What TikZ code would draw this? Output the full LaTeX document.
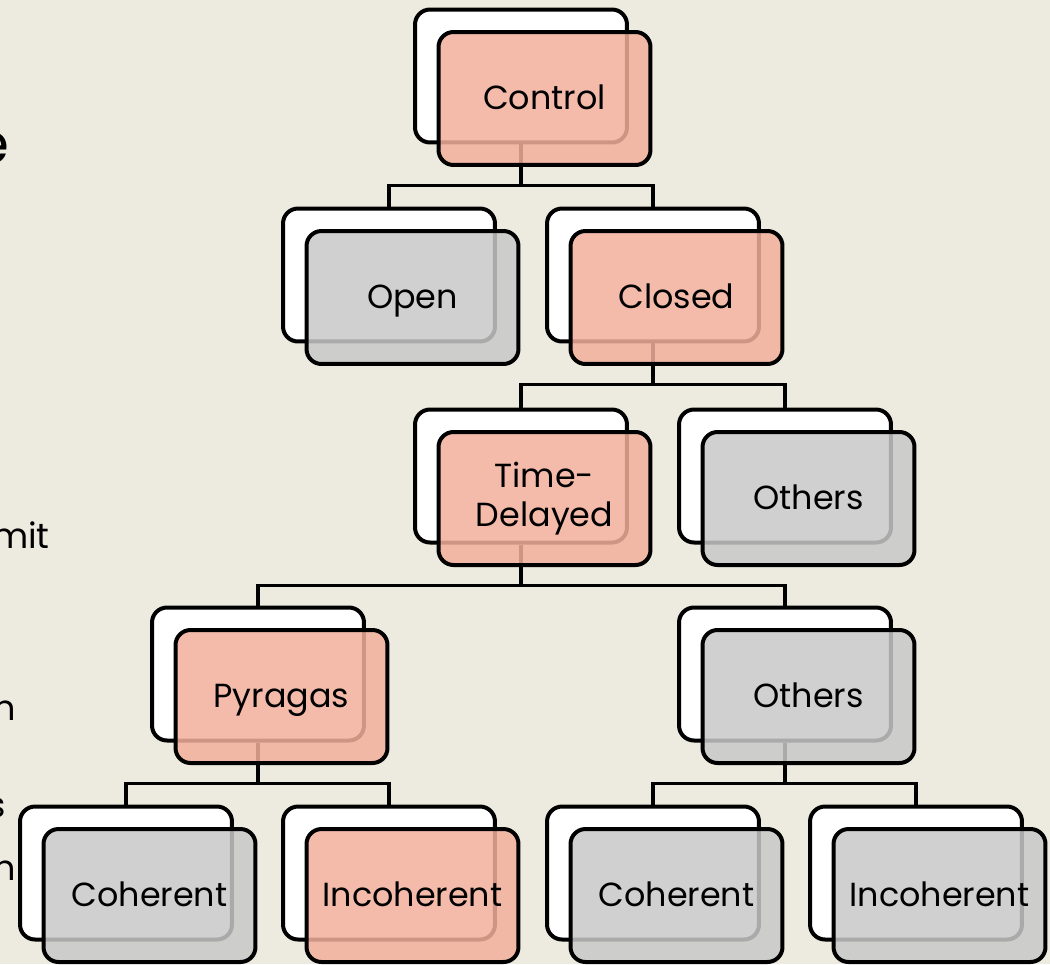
\documentclass[tikz,border=0pt]{standalone}
\usepackage{fontspec}
\setmainfont{Poppins}
\usetikzlibrary{positioning,calc}

\definecolor{paper}{RGB}{237,234,224}
\definecolor{salmon}{RGB}{243,176,157}
\definecolor{greybox}{RGB}{200,200,200}

\begin{document}
\begin{tikzpicture}[
    x=0.02cm, y=-0.02cm,
    backbox/.style={rectangle, rounded corners=0.3cm, draw, line width=0.08cm, fill=white, minimum width=4.24cm, minimum height=2.66cm, inner sep=0pt},
    frontbox/.style={backbox, fill opacity=0.85, text opacity=1, align=center, font=\fontsize{19}{22}\selectfont},
    oneline/.style={text height=17pt, text depth=4pt},
    hot/.style={fill=salmon},
    cold/.style={fill=greybox},
    link/.style={line width=0.07cm},
    side/.style={anchor=base east, inner sep=0pt, font=\fontsize{20}{24}\selectfont},
]

% Page
\useasboundingbox[fill=paper] (0,0) rectangle (1050,964);

% Cut-off slide text
\node[side, font=\fontsize{32}{36}\selectfont] (t1) at (10,163) {e};
\node[side] (t2) at (50,548) {mit};
\node[side] (t3) at (16,720) {n};
\node[side] (t4) at (6,817) {s};
\node[side] (t5) at (16,880) {h};

% Back boxes
\node[backbox] (control-b) at (521,76) {};
\node[backbox] (open-b) at (389,275) {};
\node[backbox] (closed-b) at (653,275) {};
\node[backbox] (delay-b) at (521,476) {};
\node[backbox] (others1-b) at (785,476) {};
\node[backbox] (pyragas-b) at (258,674) {};
\node[backbox] (others2-b) at (785,674) {};
\node[backbox] (coh1-b) at (126,873) {};
\node[backbox] (incoh1-b) at (389,873) {};
\node[backbox] (coh2-b) at (653,873) {};
\node[backbox] (incoh2-b) at (916,873) {};

% Tree links
\draw[link] (control-b.south) -- ++(0,41) -| (open-b.north);
\draw[link] (control-b.south) -- ++(0,41) -| (closed-b.north);
\draw[link] (closed-b.south) -- ++(0,41) -| (delay-b.north);
\draw[link] (closed-b.south) -- ++(0,41) -| (others1-b.north);
\draw[link] (delay-b.south) -- ++(0,41) -| (pyragas-b.north);
\draw[link] (delay-b.south) -- ++(0,41) -| (others2-b.north);
\draw[link] (pyragas-b.south) -- ++(0,41) -| (coh1-b.north);
\draw[link] (pyragas-b.south) -- ++(0,41) -| (incoh1-b.north);
\draw[link] (others2-b.south) -- ++(0,41) -| (coh2-b.north);
\draw[link] (others2-b.south) -- ++(0,41) -| (incoh2-b.north);

% Front boxes
\node[frontbox, oneline, hot] (control) at ([shift={(23.5,22.5)}]control-b) {Control};
\node[frontbox, oneline, cold] (open) at ([shift={(23.5,22.5)}]open-b) {Open};
\node[frontbox, oneline, hot] (closed) at ([shift={(23.5,22.5)}]closed-b) {Closed};
\node[frontbox, hot] (delay) at ([shift={(23.5,22.5)}]delay-b) {Time-\\Delayed};
\node[frontbox, oneline, cold] (others1) at ([shift={(23.5,22.5)}]others1-b) {Others};
\node[frontbox, oneline, hot] (pyragas) at ([shift={(23.5,22.5)}]pyragas-b) {Pyragas};
\node[frontbox, oneline, cold] (others2) at ([shift={(23.5,22.5)}]others2-b) {Others};
\node[frontbox, oneline, cold] (coh1) at ([shift={(23.5,22.5)}]coh1-b) {Coherent};
\node[frontbox, oneline, hot] (incoh1) at ([shift={(23.5,22.5)}]incoh1-b) {Incoherent};
\node[frontbox, oneline, cold] (coh2) at ([shift={(23.5,22.5)}]coh2-b) {Coherent};
\node[frontbox, oneline, cold] (incoh2) at ([shift={(23.5,22.5)}]incoh2-b) {Incoherent};

\end{tikzpicture}
\end{document}
